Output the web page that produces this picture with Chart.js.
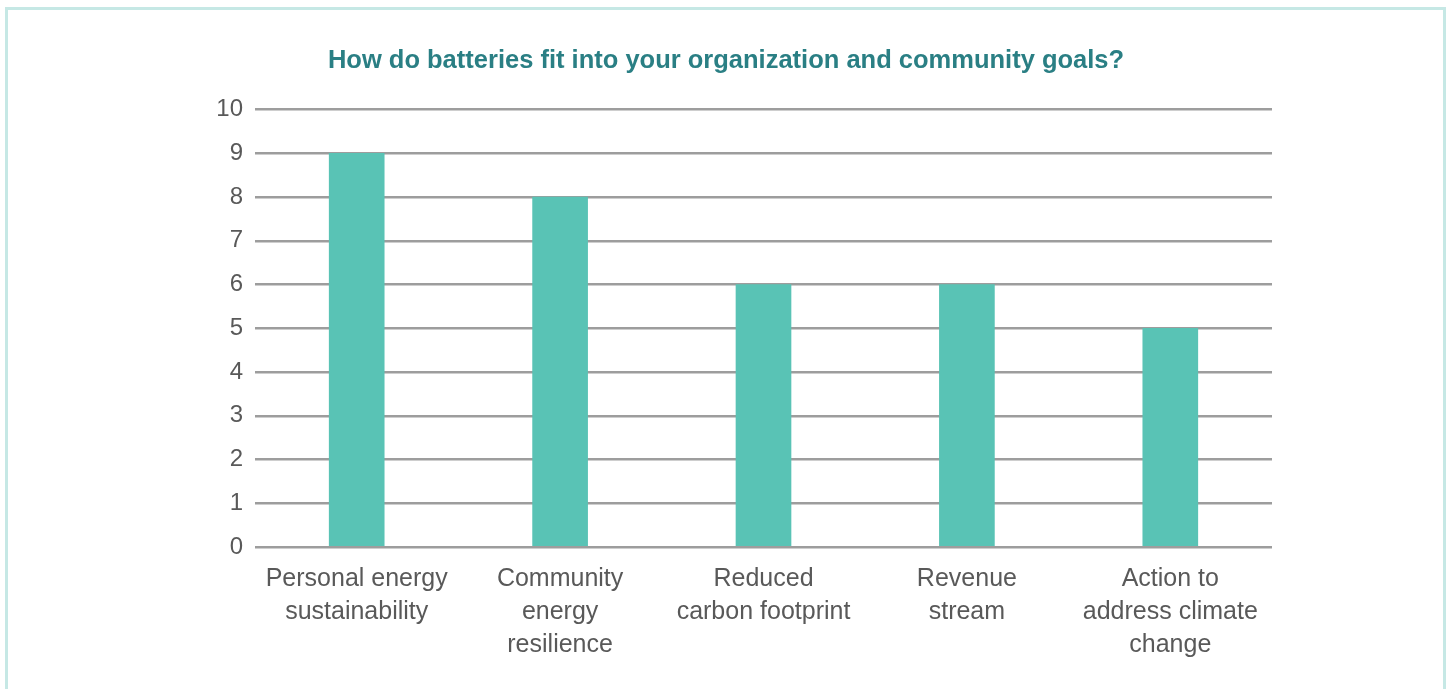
<!DOCTYPE html>
<html>
<head>
<meta charset="utf-8">
<script src="https://cdn.jsdelivr.net/npm/chart.js@4"></script>
<style>
    html, body { margin: 0; padding: 0; background: #fff; overflow: hidden; }
    .frame {
        position: absolute;
        left: 5px; top: 7px;
        width: 1435px; height: 720px;
        border: 3px solid #c6e8e5;
    }
    .wrap { position: absolute; left: 0; top: 0; width: 1449px; height: 689px; }
</style>
</head>
<body>
<div class="frame"></div>
<div class="wrap"><canvas id="chart" width="1449" height="689"></canvas></div>
<script>
// 차트 데이터
const categories = [
    ['Personal energy', 'sustainability'],
    ['Community', 'energy', 'resilience'],
    ['Reduced', 'carbon footprint'],
    ['Revenue', 'stream'],
    ['Action to', 'address climate', 'change']
];
const values = [9, 8, 6, 6, 5];
const yTicks = [0, 1, 2, 3, 4, 5, 6, 7, 8, 9, 10];

const chartTitle = 'How do batteries fit into your organization and community goals?';
const fontFamily = '"Liberation Sans", Arial, Helvetica, sans-serif';

new Chart(document.getElementById('chart'), {
    type: 'bar',
    data: {
        labels: categories,
        datasets: [{
            data: values,
            backgroundColor: '#59c3b5',
            borderWidth: 0,
            barThickness: 55
        }]
    },
    options: {
        responsive: false,
        animation: false,
        layout: {
            padding: { left: 180, right: 177, top: 46, bottom: 11 }
        },
        plugins: {
            legend: { display: false },
            tooltip: { enabled: false },
            title: {
                display: true,
                text: chartTitle,
                color: '#2a7f84',
                font: { family: fontFamily, size: 25.5, weight: 'bold', lineHeight: 1.2 },
                padding: { top: 0, bottom: 33 }
            }
        },
        scales: {
            x: {
                grid: { display: false, drawTicks: false },
                border: { display: false },
                ticks: {
                    color: '#595959',
                    autoSkip: false,
                    maxRotation: 0,
                    padding: 16,
                    font: { family: fontFamily, size: 25, lineHeight: 1.32 }
                }
            },
            y: {
                min: 0,
                max: 10,
                afterFit(scale) { scale.width = 75; },
                afterBuildTicks(scale) { scale.ticks = yTicks.map(v => ({ value: v })); },
                grid: { color: '#9d9d9d', lineWidth: 2.5, drawTicks: false },
                border: { display: false },
                ticks: {
                    color: '#595959',
                    padding: 12,
                    font: { family: fontFamily, size: 24 }
                }
            }
        }
    }
});
</script>
</body>
</html>
